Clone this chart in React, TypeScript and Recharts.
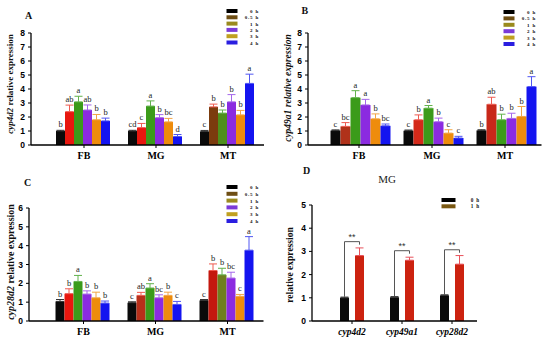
import React from "react";
import { BarChart, Bar, XAxis, YAxis, ErrorBar, LabelList, Cell, Legend } from "recharts";

const SERIF = "'Liberation Serif', 'Times New Roman', serif";
const SANS = "'Liberation Sans', Arial, sans-serif";

const tissues = ["FB", "MG", "MT"];
const timeKeys = ["h0", "h05", "h1", "h2", "h3", "h4"];
const timeLabels = ["0 h", "0.5 h", "1 h", "2 h", "3 h", "4 h"];

// A: cyp4d2 (rows = time point, cols = FB, MG, MT)
const aMean = [
  [1.0, 1.0, 0.96],
  [2.38, 1.24, 2.72],
  [3.08, 2.78, 2.28],
  [2.5, 1.95, 3.08],
  [1.8, 1.65, 2.15],
  [1.72, 0.61, 4.4],
];
const aErr = [
  [0.05, 0.05, 0.08],
  [0.47, 0.3, 0.2],
  [0.4, 0.37, 0.22],
  [0.36, 0.22, 0.52],
  [0.38, 0.25, 0.32],
  [0.2, 0.14, 0.66],
];
const aLetters = [
  ["b", "cd", "c"],
  ["ab", "c", "b"],
  ["a", "a", "b"],
  ["ab", "b", "b"],
  ["b", "bc", "b"],
  ["b", "d", "a"],
];

// B: cyp49a1
const bMean = [
  [1.03, 1.02, 1.04],
  [1.33, 1.8, 2.91],
  [3.38, 2.63, 1.8],
  [2.86, 1.66, 1.9],
  [1.87, 0.85, 2.04],
  [1.37, 0.5, 4.17],
];
const bErr = [
  [0.05, 0.05, 0.05],
  [0.27, 0.35, 0.5],
  [0.5, 0.19, 0.4],
  [0.4, 0.26, 0.37],
  [0.35, 0.24, 0.71],
  [0.13, 0.12, 0.71],
];
const bLetters = [
  ["c", "c", "b"],
  ["bc", "b", "ab"],
  ["a", "a", "b"],
  ["a", "b", "b"],
  ["b", "c", "b"],
  ["bc", "c", "a"],
];

// C: cyp28d2
const cMean = [
  [1.04, 0.97, 1.09],
  [1.45, 1.36, 2.68],
  [2.1, 1.75, 2.45],
  [1.43, 1.23, 2.28],
  [1.23, 1.36, 1.31],
  [0.95, 0.88, 3.76],
];
const cErr = [
  [0.1, 0.05, 0.05],
  [0.26, 0.16, 0.35],
  [0.32, 0.23, 0.35],
  [0.17, 0.16, 0.31],
  [0.3, 0.17, 0.1],
  [0.11, 0.16, 0.72],
];
const cLetters = [
  ["b", "c", "c"],
  ["b", "ab", "b"],
  ["a", "a", "b"],
  ["b", "bc", "bc"],
  ["b", "b", "c"],
  ["b", "c", "a"],
];

// D: MG, 0 h vs 1 h
const genes = ["cyp4d2", "cyp49a1", "cyp28d2"];
const dKeys = ["h0", "h1"];
const dLabels = ["0 h", "1 h"];
const dMean = [
  [1.0, 1.02, 1.1],
  [2.82, 2.62, 2.45],
];
const dErr = [
  [0.03, 0.03, 0.03],
  [0.33, 0.13, 0.37],
];
const dSigHeight = [3.42, 3.03, 3.07];
const dSigText = ["**", "**", "**"];

// styling
const barColors = ["#0a0a0a", "#e8170f", "#3b9b1a", "#8b2be0", "#ee8c0c", "#1414f0"];
const errColors = ["#333333", "#ee5a50", "#62b24c", "#a466ea", "#f2a545", "#5056f2"];
const legendColors = ["#000000", "#6e4e14", "#9a8a1e", "#7a3ad8", "#c0a020", "#2a1ee0"];
const dBarColors = ["#0a0a0a", "#cc2210"];
const dErrColors = ["#333333", "#e8505a"];
const dLegendColors = ["#000000", "#7a5812"];

const colorTable = (over: Record<string, string>) =>
  timeKeys.map((_, s) => tissues.map((_, t) => over[`${s},${t}`] || barColors[s]));
const aColors = colorTable({ "1,2": "#7b3c0e", "2,2": "#4e8f1c" });
const bColors = colorTable({ "1,0": "#b0321a", "1,1": "#d42a1a", "1,2": "#c8281a" });
const cColors = colorTable({ "1,1": "#b8301a", "1,2": "#c4180e", "2,2": "#6f7f1e" });

const buildRows = (cats: string[], keys: string[], mean: number[][], err: number[][]) =>
  cats.map((cat, t) => {
    const row: any = { cat };
    keys.forEach((k, s) => {
      row[k] = mean[s][t];
      row[`${k}e`] = [0, err[s][t]];
    });
    return row;
  });

const geom = (props: any) => {
  const vb = props.viewBox || {};
  return {
    x: Number(props.x ?? vb.x),
    y: Number(props.y ?? vb.y),
    width: Number(props.width ?? vb.width),
    height: Number(props.height ?? vb.height),
    value: Number(props.value),
    index: props.index,
  };
};

const letterLabel = (letters: string[], errs: number[]) => (props: any) => {
  const { x, y, width, height, value, index } = geom(props);
  if (!value || index == null) return null;
  const ppu = height / value;
  const top = y - errs[index] * ppu;
  return (
    <text
      x={x + width / 2}
      y={top - 3}
      textAnchor="middle"
      fontSize={8.5}
      fontFamily={SERIF}
      style={{ fill: "#222", stroke: "none" }}
    >
      {letters[index]}
    </text>
  );
};

const sigBracket = (gap: number) => (props: any) => {
  const { x, y, width, height, value, index } = geom(props);
  if (!value || index == null) return null;
  const ppu = height / value;
  const top = y + height - dSigHeight[index] * ppu;
  const xl = x + width / 2;
  const xr = x + width + gap + width / 2;
  return (
    <g>
      <path d={`M${xl},${y - 1}V${top}H${xr}V${top + 3}`} stroke="#555" strokeWidth={1} fill="none" />
      <text x={(xl + xr) / 2} y={top - 2} textAnchor="middle" fontSize={9} fontFamily={SANS} style={{ fill: "#333", stroke: "none" }}>
        {dSigText[index]}
      </text>
    </g>
  );
};

const yTitle = (gene: string, allItalic: boolean, cx: number, cy: number, fs: number) => () => (
  <text
    x={cx}
    y={cy}
    transform={`rotate(-90 ${cx} ${cy})`}
    textAnchor="middle"
    dominantBaseline="central"
    fontSize={fs}
    fontWeight={700}
    fontFamily={SERIF}
    fill="#111"
  >
    {gene ? <tspan fontStyle="italic">{gene} </tspan> : null}
    <tspan fontStyle={allItalic ? "italic" : "normal"}>relative expression</tspan>
  </text>
);

const legendBox = (labels: string[], colors: string[], step: number, w: number, rectW: number, fs: number) => () => (
  <svg width={w} height={labels.length * step + 4} style={{ display: "block" }}>
    {labels.map((l, i) => (
      <g key={l}>
        <rect x={0.5} y={3 + i * step - 2} width={rectW} height={4} fill={colors[i]} />
        <text
          x={w - 1}
          y={3 + i * step + 2}
          textAnchor="end"
          fontSize={fs}
          letterSpacing={0.8}
          fontWeight={700}
          fontFamily={SERIF}
          fill="#111"
        >
          {l}
        </text>
      </g>
    ))}
  </svg>
);

type PanelProps = {
  left: number;
  top: number;
  mean: number[][];
  err: number[][];
  letters: string[][];
  colors: string[][];
  yMax: number;
  margin: any;
  yWidth: number;
  xHeight: number;
  padLeft: number;
  gene: string;
  allItalic: boolean;
  titlePos: [number, number, number];
  legendPos: [number, number, number];
};

function TimePanel(p: PanelProps) {
  const rows = buildRows(tissues, timeKeys, p.mean, p.err);
  const ticks = Array.from({ length: p.yMax + 1 }, (_, i) => i);
  return (
    <div style={{ position: "absolute", left: p.left, top: p.top }}>
      <BarChart width={275} height={172} data={rows} margin={p.margin} barCategoryGap={8} barGap={0}>
        <XAxis
          dataKey="cat"
          height={p.xHeight}
          padding={{ left: p.padLeft, right: 0 }}
          axisLine={{ stroke: "#000", strokeWidth: 1.3 }}
          tickLine={{ stroke: "#000" }}
          tickSize={3}
          tickMargin={4}
          tick={{ fontSize: 10, fontWeight: 700, fontFamily: SERIF, fill: "#000" }}
        />
        <YAxis
          width={p.yWidth}
          domain={[0, p.yMax]}
          ticks={ticks}
          interval={0}
          axisLine={{ stroke: "#000", strokeWidth: 1.3 }}
          tickLine={{ stroke: "#000" }}
          tickSize={3}
          tickMargin={3}
          tick={{ fontSize: 8.5, fontWeight: 700, fontFamily: SANS, fill: "#000" }}
          label={{ content: yTitle(p.gene, p.allItalic, p.titlePos[0], p.titlePos[1], p.titlePos[2]) }}
        />
        <Legend
          layout="vertical"
          align="center"
          verticalAlign="middle"
          wrapperStyle={{ left: p.legendPos[0], top: p.legendPos[1], width: 34, height: 44 }}
          content={legendBox(timeLabels, legendColors, p.legendPos[2], 34, 11, 5)}
        />
        {timeKeys.map((k, s) => (
          <Bar key={k} dataKey={k} name={timeLabels[s]} isAnimationActive={false}>
            {tissues.map((t, i) => (
              <Cell key={t} fill={p.colors[s][i]} />
            ))}
            <ErrorBar dataKey={`${k}e`} direction="y" width={4} strokeWidth={1} stroke={errColors[s]} />
            <LabelList dataKey={k} content={letterLabel(p.letters[s], p.err[s])} />
          </Bar>
        ))}
      </BarChart>
    </div>
  );
}

function PanelD() {
  const rows = buildRows(genes, dKeys, dMean, dErr);
  return (
    <div style={{ position: "absolute", left: 275, top: 172 }}>
      <BarChart
        width={275}
        height={172}
        data={rows}
        margin={{ top: 33, right: 73, bottom: 5, left: 0 }}
        barSize={9}
        barGap={6}
      >
        <XAxis
          dataKey="cat"
          height={18}
          padding={{ left: 15, right: 0 }}
          axisLine={{ stroke: "#000", strokeWidth: 1.3 }}
          tickLine={{ stroke: "#000" }}
          tickSize={3}
          tickMargin={4}
          tick={{ fontSize: 9.5, fontWeight: 700, fontStyle: "italic", fontFamily: SERIF, fill: "#000" }}
        />
        <YAxis
          width={37}
          domain={[0, 5]}
          ticks={[0, 1, 2, 3, 4, 5]}
          interval={0}
          axisLine={{ stroke: "#000", strokeWidth: 1.3 }}
          tickLine={{ stroke: "#000" }}
          tickSize={3}
          tickMargin={3}
          tick={{ fontSize: 8.5, fontWeight: 700, fontFamily: SANS, fill: "#000" }}
          label={{ content: yTitle("", false, 15, 93, 9.5) }}
        />
        <Legend
          layout="vertical"
          align="center"
          verticalAlign="middle"
          wrapperStyle={{ left: 166, top: 25, width: 40, height: 17 }}
          content={legendBox(dLabels, dLegendColors, 6.3, 40, 14, 5.2)}
        />
        {dKeys.map((k, s) => (
          <Bar key={k} dataKey={k} name={dLabels[s]} fill={dBarColors[s]} isAnimationActive={false}>
            <ErrorBar dataKey={`${k}e`} direction="y" width={4} strokeWidth={1} stroke={dErrColors[s]} />
            {s === 0 ? <LabelList dataKey={k} content={sigBracket(6)} /> : null}
          </Bar>
        ))}
      </BarChart>
    </div>
  );
}

export default function App() {
  return (
    <div style={{ position: "absolute", left: 0, top: 0, width: 550, height: 344, background: "#fff", overflow: "hidden" }}>
      <TimePanel
        left={0}
        top={0}
        mean={aMean}
        err={aErr}
        letters={aLetters}
        colors={aColors}
        yMax={8}
        margin={{ top: 33, right: 11, bottom: 7, left: 0 }}
        yWidth={31}
        xHeight={20}
        padLeft={17}
        gene="cyp4d2"
        allItalic={false}
        titlePos={[10, 84, 9]}
        legendPos={[226, 8, 6.3]}
      />
      <TimePanel
        left={275}
        top={0}
        mean={bMean}
        err={bErr}
        letters={bLetters}
        colors={bColors}
        yMax={8}
        margin={{ top: 33, right: 8.5, bottom: 7, left: 0 }}
        yWidth={33}
        xHeight={20}
        padLeft={14.5}
        gene="cyp49a1"
        allItalic={true}
        titlePos={[13, 88, 9.5]}
        legendPos={[228, 9, 6.4]}
      />
      <TimePanel
        left={0}
        top={172}
        mean={cMean}
        err={cErr}
        letters={cLetters}
        colors={cColors}
        yMax={6}
        margin={{ top: 36, right: 11.5, bottom: 5, left: 0 }}
        yWidth={29}
        xHeight={18}
        padLeft={18.5}
        gene="cyp28d2"
        allItalic={false}
        titlePos={[10, 90, 10]}
        legendPos={[226, 12, 6.8]}
      />
      <PanelD />
      <svg width={550} height={344} style={{ position: "absolute", left: 0, top: 0, pointerEvents: "none" }}>
        <g fontFamily={SERIF} fontWeight={700} fontSize={10} fill="#111">
          <text x={25} y={19}>A</text>
          <text x={301.5} y={14}>B</text>
          <text x={24} y={186}>C</text>
          <text x={303} y={174}>D</text>
        </g>
        <text x={387} y={183} textAnchor="middle" fontFamily={SERIF} fontSize={11} fill="#222">
          MG
        </text>
      </svg>
    </div>
  );
}
